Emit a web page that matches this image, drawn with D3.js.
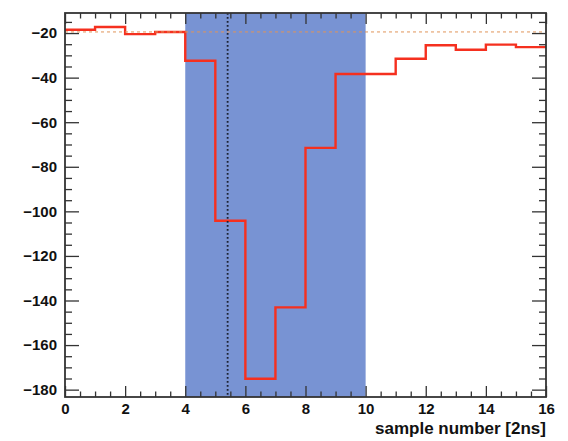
<!DOCTYPE html>
<meta charset="utf-8">
<style>
body { margin: 0; background: #fff; }
.axis text { font-family: "Liberation Sans", Arial, sans-serif; font-weight: bold; font-size: 15px; fill: #111; }
.axis line { stroke: #333; stroke-width: 1.3px; }
</style>
<body>
<script src="https://d3js.org/d3.v7.min.js"></script>
<script>

// histogram bins (sample index 0..15, width 1)
var binEdges = [0,1,2,3,4,5,6,7,8,9,10,11,12,13,14,15,16];
var binValues = [-18.5,-17.3,-20.5,-19.5,-32.4,-104.2,-175.1,-143.1,-71.5,-38.4,-38.4,-31.5,-25.5,-27.5,-25.2,-26.3];

var baseline = -19.5;        // dashed pedestal line
var windowRange = [4, 10];   // shaded integration window
var peakTime = 5.41;         // dotted marker

var xTicks = [0,2,4,6,8,10,12,14,16];
var yTicks = [-180,-160,-140,-120,-100,-80,-60,-40,-20];

var margin = {top: 13, right: 22, bottom: 44, left: 65},
    width = 568 - margin.left - margin.right,
    height = 441 - margin.top - margin.bottom;

var x = d3.scaleLinear().domain([0, 16]).range([0, width]);
var y = d3.scaleLinear().domain([-183.3, -11]).range([height, 0]);

var svg = d3.select("body").append("svg")
    .attr("width", 568)
    .attr("height", 441)
    .append("g")
    .attr("transform", "translate(" + margin.left + "," + margin.top + ")");

// shaded window
svg.append("rect")
    .attr("x", x(windowRange[0]))
    .attr("y", 0)
    .attr("width", x(windowRange[1]) - x(windowRange[0]))
    .attr("height", height)
    .style("fill", "#7893d3");

// step line
var pts = [];
binValues.forEach(function(v, i) {
  pts.push([binEdges[i], v]);
  pts.push([binEdges[i + 1], v]);
});
svg.append("path")
    .datum(pts)
    .attr("d", d3.line().x(function(d) { return x(d[0]); }).y(function(d) { return y(d[1]); }))
    .style("fill", "none")
    .style("stroke", "#f5301f")
    .style("stroke-width", 2.4);

// pedestal line
svg.append("line")
    .attr("x1", 0).attr("x2", width)
    .attr("y1", y(baseline)).attr("y2", y(baseline))
    .style("stroke", "#e0955a")
    .style("stroke-width", 1)
    .style("stroke-dasharray", "3,3");

// peak marker
svg.append("line")
    .attr("x1", x(peakTime)).attr("x2", x(peakTime))
    .attr("y1", 0).attr("y2", height)
    .style("stroke", "#1c2233")
    .style("stroke-width", 1.8)
    .style("stroke-dasharray", "1.8,2.2");

// minor ticks
var xMinor = d3.range(0, 16.01, 0.5).filter(function(v) { return v % 2 !== 0; });
var yMinor = d3.range(-180, -11, 5).filter(function(v) { return v % 20 !== 0; });

svg.append("g").attr("class", "axis")
    .attr("transform", "translate(0," + height + ")")
    .call(d3.axisBottom(x).tickValues(xMinor).tickSize(-5.5).tickFormat(""))
    .call(function(g) { g.select(".domain").remove(); });
svg.append("g").attr("class", "axis")
    .call(d3.axisTop(x).tickValues(xMinor).tickSize(-5.5).tickFormat(""))
    .call(function(g) { g.select(".domain").remove(); });
svg.append("g").attr("class", "axis")
    .call(d3.axisLeft(y).tickValues(yMinor).tickSize(-7).tickFormat(""))
    .call(function(g) { g.select(".domain").remove(); });
svg.append("g").attr("class", "axis")
    .attr("transform", "translate(" + width + ",0)")
    .call(d3.axisRight(y).tickValues(yMinor).tickSize(-7).tickFormat(""))
    .call(function(g) { g.select(".domain").remove(); });

// major ticks + labels
svg.append("g").attr("class", "axis")
    .attr("transform", "translate(0," + height + ")")
    .call(d3.axisBottom(x).tickValues(xTicks).tickSize(-11).tickPadding(6).tickFormat(d3.format("d")))
    .call(function(g) { g.select(".domain").remove(); });
svg.append("g").attr("class", "axis")
    .call(d3.axisTop(x).tickValues(xTicks).tickSize(-11).tickFormat(""))
    .call(function(g) { g.select(".domain").remove(); });
svg.append("g").attr("class", "axis")
    .call(d3.axisLeft(y).tickValues(yTicks).tickSize(-14).tickPadding(8).tickFormat(d3.format("d")))
    .call(function(g) { g.select(".domain").remove(); });
svg.append("g").attr("class", "axis")
    .attr("transform", "translate(" + width + ",0)")
    .call(d3.axisRight(y).tickValues(yTicks).tickSize(-14).tickFormat(""))
    .call(function(g) { g.select(".domain").remove(); });

// frame
svg.append("rect")
    .attr("width", width)
    .attr("height", height)
    .style("fill", "none")
    .style("stroke", "#333")
    .style("stroke-width", 1.8);

// axis title
svg.append("text")
    .attr("x", width)
    .attr("y", height + 37)
    .attr("text-anchor", "end")
    .style("font-family", "Liberation Sans, Arial, sans-serif")
    .style("font-weight", "bold")
    .style("font-size", "17px")
    .style("fill", "#111")
    .text("sample number [2ns]");

</script>
</body>
